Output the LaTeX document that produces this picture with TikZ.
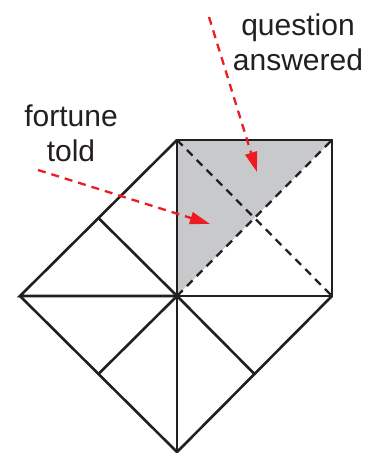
\documentclass[tikz,border=0pt]{standalone}
\usepackage{fontspec}
\setmainfont{Liberation Sans}
\usetikzlibrary{arrows.meta}
\definecolor{ared}{RGB}{237,28,36}
\definecolor{greyfill}{RGB}{200,201,203}
\definecolor{ink}{RGB}{35,31,32}
\begin{document}
\begin{tikzpicture}[x=1pt,y=-1pt,
  fold/.style={draw=ink,line width=2.6pt,line join=miter},
  crease/.style={draw=ink,line width=2.3pt,dash pattern=on 8pt off 6pt},
  pointer/.style={draw=ared,line width=2.3pt,dash pattern=on 8pt off 6pt,
    -{Triangle[length=20pt,width=12pt,fill=ared]}},
  lbl/.style={font=\fontsize{30}{35}\selectfont,text=ink,align=center,inner sep=0pt}]
\useasboundingbox (0,0) rectangle (374,453);
% geometry
\coordinate (TL) at (177,140);
\coordinate (TR) at (332,140);
\coordinate (BR) at (332,296);
\coordinate (C) at (177,296);
\coordinate (L) at (20,296);
\coordinate (B) at (177,452);
\coordinate (ML) at (98.5,218);
\coordinate (MBL) at (98.5,374);
\coordinate (MBR) at (254.5,374);
% shaded triangle
\fill[greyfill] (TL) -- (TR) -- (C) -- cycle;
% creases
\draw[crease] (TL) -- (BR);
\draw[crease] (C) -- (TR);
% folds
\draw[fold] (TL) -- (TR) -- (BR) -- (C) -- cycle;
\draw[fold] (TL) -- (L) -- (C);
\draw[fold] (ML) -- (C);
\draw[fold] (L) -- (B) -- (BR);
\draw[fold] (C) -- (B);
\draw[fold] (C) -- (MBL);
\draw[fold] (C) -- (MBR);
% labels
\node[lbl] (qa) at (298,42) {question\\answered};
\node[lbl] (ft) at (71,133) {fortune\\told};
\coordinate (qs) at (209,17);
\coordinate (qe) at (257,172);
\coordinate (fs) at (38,170);
\coordinate (fe) at (210,224);
\draw[pointer] (qs) -- (qe);
\draw[pointer] (fs) -- (fe);
\end{tikzpicture}
\end{document}
